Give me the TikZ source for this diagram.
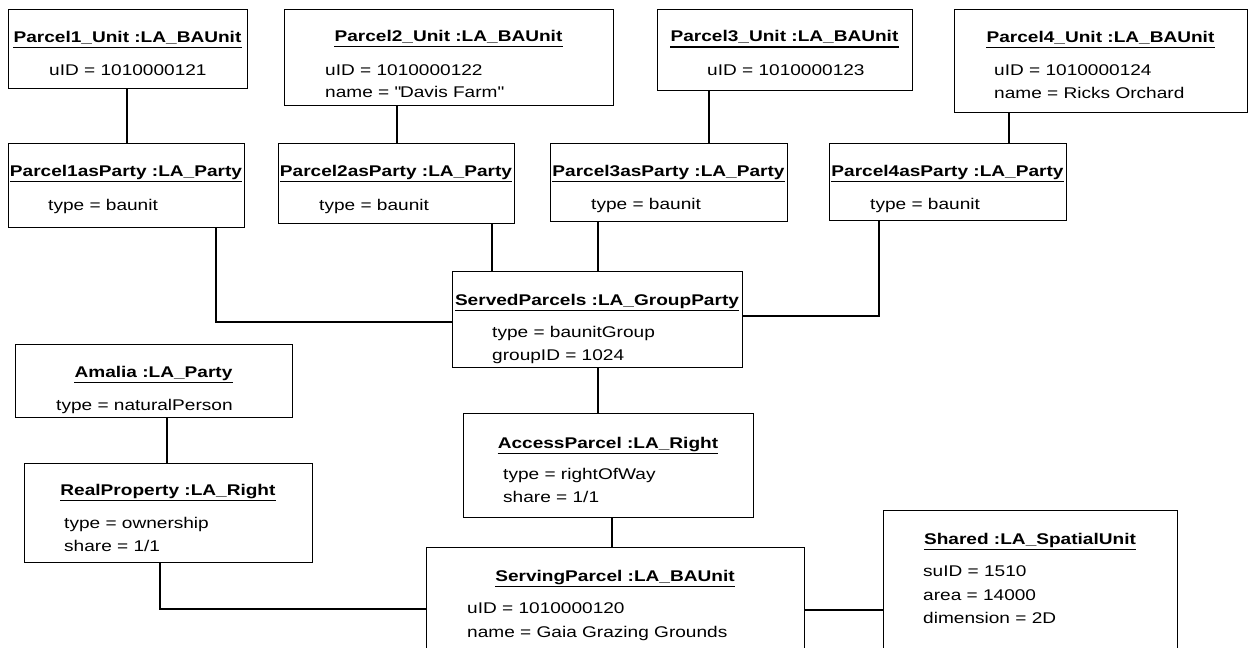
\documentclass[tikz,border=0pt]{standalone}
\usepackage{fontspec}
\setmainfont{Liberation Sans}[FakeStretch=1.23]

% One UML object: name, left, top, right, bottom, title baseline, title text
\newcommand\umlobject[7]{%
  \node[objbox, minimum width={#4-#2}, minimum height={#5-#3}, anchor=north west] (#1) at (#2,#3) {};
  \node[objtitle] (#1t) at ({(#2+#4)/2},#6) {#7};
  \draw[uline] ([yshift=-5.5pt]#1t.base west) -- ([yshift=-5.5pt]#1t.base east);
}

\begin{document}
\begin{tikzpicture}[x=1pt,y=-1pt,
  objbox/.style={rectangle, draw=black, line width=1.3pt, fill=white, inner sep=0pt},
  objtitle/.style={anchor=base, inner sep=0pt, font=\fontsize{15.5}{18}\selectfont\bfseries},
  attr/.style={anchor=base west, inner sep=0pt, font=\fontsize{15.5}{18}\selectfont},
  link/.style={draw=black, line width=1.3pt},
  uline/.style={line width=1.3pt}]

\useasboundingbox (0,0) rectangle (1248,648);
\clip (0,0) rectangle (1248,648);

% ---- basic administrative units of the served parcels
\umlobject{p1u}{8}{9}{247}{88}{42}{Parcel1\_Unit :LA\_BAUnit}
\node[attr] (p1ua) at (49,75) {uID = 1010000121};

\umlobject{p2u}{284}{9}{613}{105}{41}{Parcel2\_Unit :LA\_BAUnit}
\node[attr] (p2ua) at (325,75) {uID = 1010000122};
\node[attr] (p2ub) at (325,97) {name = \textquotedbl Davis Farm\textquotedbl};

\umlobject{p3u}{657}{9}{912}{90}{41.5}{Parcel3\_Unit :LA\_BAUnit}
\node[attr] (p3ua) at (707,75) {uID = 1010000123};

\umlobject{p4u}{954}{9}{1247}{112}{42}{Parcel4\_Unit :LA\_BAUnit}
\node[attr] (p4ua) at (994,75) {uID = 1010000124};
\node[attr] (p4ub) at (994,98) {name = Ricks Orchard};

% ---- the units acting as parties
\umlobject{p1p}{8}{143}{244}{227}{176}{Parcel1asParty :LA\_Party}
\node[attr] (p1pa) at (48,210) {type = baunit};

\umlobject{p2p}{278}{143}{514}{223}{176}{Parcel2asParty :LA\_Party}
\node[attr] (p2pa) at (319,210) {type = baunit};

\umlobject{p3p}{550}{143}{787}{221}{176}{Parcel3asParty :LA\_Party}
\node[attr] (p3pa) at (591,209) {type = baunit};

\umlobject{p4p}{829}{143}{1066}{220}{176}{Parcel4asParty :LA\_Party}
\node[attr] (p4pa) at (870,209) {type = baunit};

% ---- group party
\umlobject{sp}{452}{271}{742}{367}{305}{ServedParcels :LA\_GroupParty}
\node[attr] (spa) at (492,337) {type = baunitGroup};
\node[attr] (spb) at (492,360) {groupID = 1024};

% ---- natural person and her right
\umlobject{am}{15}{344}{292}{417}{377}{Amalia :LA\_Party}
\node[attr] (ama) at (56,410) {type = naturalPerson};

\umlobject{rp}{24}{463}{312}{562}{495}{RealProperty :LA\_Right}
\node[attr] (rpa) at (64,528) {type = ownership};
\node[attr] (rpb) at (64,551) {share = 1/1};

% ---- right of way
\umlobject{ap}{463}{413}{753}{517}{448}{AccessParcel :LA\_Right}
\node[attr] (apa) at (503,479) {type = rightOfWay};
\node[attr] (apb) at (503,502) {share = 1/1};

% ---- serving unit and its spatial unit
\umlobject{sg}{426}{547}{804}{670}{581}{ServingParcel :LA\_BAUnit}
\node[attr] (sga) at (467,613) {uID = 1010000120};
\node[attr] (sgb) at (467,637) {name = Gaia Grazing Grounds};

\umlobject{sh}{883}{510}{1177}{670}{544}{Shared :LA\_SpatialUnit}
\node[attr] (sha) at (923,576) {suID = 1510};
\node[attr] (shb) at (923,600) {area = 14000};
\node[attr] (shc) at (923,623) {dimension = 2D};

% ---- links
\draw[link] (p1u.south -| 127,0) -- (p1p.north -| 127,0);
\draw[link] (p2u.south -| 397,0) -- (p2p.north -| 397,0);
\draw[link] (p3u.south -| 709,0) -- (p3p.north -| 709,0);
\draw[link] (p4u.south -| 1009,0) -- (p4p.north -| 1009,0);

\draw[link] (p1p.south -| 216,0) |- (sp.west |- 0,322);
\draw[link] (p2p.south -| 492,0) -- (sp.north -| 492,0);
\draw[link] (p3p.south -| 598,0) -- (sp.north -| 598,0);
\draw[link] (p4p.south -| 879,0) |- (sp.east |- 0,316);

\draw[link] (sp.south -| 598,0) -- (ap.north -| 598,0);
\draw[link] (am.south -| 167,0) -- (rp.north -| 167,0);
\draw[link] (ap.south -| 612,0) -- (sg.north -| 612,0);
\draw[link] (rp.south -| 160,0) |- (sg.west |- 0,609);
\draw[link] (sg.east |- 0,610) -- (sh.west |- 0,610);
\end{tikzpicture}
\end{document}
